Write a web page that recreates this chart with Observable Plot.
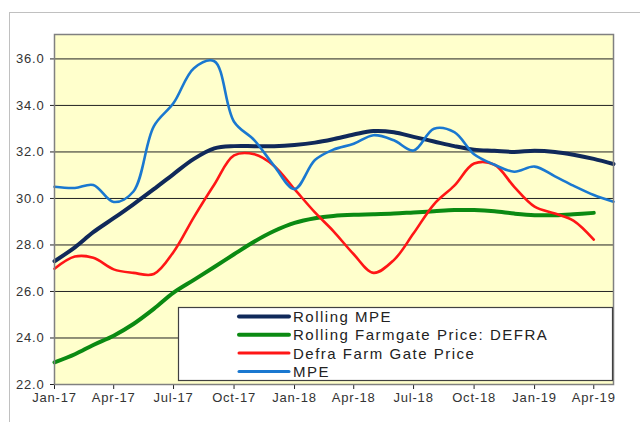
<!DOCTYPE html>
<html>
<head>
<meta charset="utf-8">
<script src="https://cdn.jsdelivr.net/npm/d3@7"></script>
<script src="https://cdn.jsdelivr.net/npm/@observablehq/plot@0.6"></script>
<style>
  html, body { margin: 0; padding: 0; background: #fff; }
  #wrap { position: relative; width: 640px; height: 422px; overflow: hidden; }
  #border { position: absolute; left: 9px; top: 12px; width: 700px; height: 500px;
            border-left: 1px solid #c0c0c0; border-top: 1px solid #c0c0c0; }
  #chart { position: absolute; left: 0; top: 0; }
</style>
</head>
<body>
<div id="wrap"><div id="border"></div><div id="chart"></div></div>
<script>
// ---- Data ----
const months = [
  "2017-01","2017-02","2017-03","2017-04","2017-05","2017-06","2017-07","2017-08","2017-09","2017-10","2017-11","2017-12",
  "2018-01","2018-02","2018-03","2018-04","2018-05","2018-06","2018-07","2018-08","2018-09","2018-10","2018-11","2018-12",
  "2019-01","2019-02","2019-03","2019-04","2019-05"
];
const rollingMPE = [27.3, 27.9, 28.55, 29.15, 29.75, 30.4, 31.05, 31.7, 32.15, 32.25, 32.25, 32.25, 32.3, 32.4, 32.55, 32.75, 32.9, 32.85, 32.65, 32.45, 32.25, 32.1, 32.05, 32.0, 32.05, 32.0, 31.88, 31.7, 31.48];
const rollingFarmgate = [22.95, 23.3, 23.7, 24.1, 24.6, 25.25, 25.95, 26.5, 27.05, 27.6, 28.15, 28.6, 28.95, 29.15, 29.25, 29.3, 29.32, 29.35, 29.4, 29.45, 29.5, 29.5, 29.45, 29.35, 29.28, 29.28, 29.32, 29.38];
const defraPrice = [26.98, 27.5, 27.45, 26.95, 26.8, 26.75, 27.7, 29.2, 30.6, 31.85, 31.9, 31.4, 30.4, 29.4, 28.6, 27.6, 26.8, 27.35, 28.5, 29.75, 30.55, 31.5, 31.45, 30.5, 29.65, 29.35, 29.05, 28.23];
const mpe = [30.5, 30.45, 30.58, 29.85, 30.3, 33.1, 34.1, 35.6, 35.9, 33.3, 32.5, 31.4, 30.4, 31.65, 32.1, 32.35, 32.72, 32.5, 32.06, 33.0, 32.85, 31.9, 31.45, 31.15, 31.37, 30.95, 30.55, 30.15, 29.86];
const seriesNames = ["Rolling MPE", "Rolling Farmgate Price: DEFRA", "Defra Farm Gate Price", "MPE"];
const tickMonths = ["2017-01","2017-04","2017-07","2017-10","2018-01","2018-04","2018-07","2018-10","2019-01","2019-04"];
const tickLabels = ["Jan-17","Apr-17","Jul-17","Oct-17","Jan-18","Apr-18","Jul-18","Oct-18","Jan-19","Apr-19"];
const yTicks = [22, 24, 26, 28, 30, 32, 34, 36];

// ---- Styles ----
const seriesValues = [rollingMPE, rollingFarmgate, defraPrice, mpe];
const colors = ["#10295a", "#0b8a12", "#ff1616", "#1a78d0"];
const widths = [4, 4, 2.6, 2.6];

const parse = d3.utcParse("%Y-%m");
const tickDates = tickMonths.map(parse);
const labelMap = new Map(tickDates.map((d, i) => [+d, tickLabels[i]]));

const lineMarks = seriesNames.map((name, k) => {
  const rows = seriesValues[k].map((v, i) => ({date: parse(months[i]), value: v, series: name}));
  return Plot.line(rows, {x: "date", y: "value", stroke: colors[k], strokeWidth: widths[k], curve: "catmull-rom"});
});

const plot = Plot.plot({
  width: 640,
  height: 422,
  marginLeft: 54,
  marginRight: 27,
  marginTop: 34,
  marginBottom: 38,
  style: {
    fontFamily: "'Liberation Sans', Arial, sans-serif",
    fontSize: "13px",
    color: "#333",
    background: "transparent",
    letterSpacing: "0.8px",
    overflow: "visible"
  },
  x: {type: "utc", domain: [parse(months[0]), parse(months[months.length - 1])]},
  y: {domain: [22, 37.05]},
  marks: [
    Plot.frame({fill: "#FFFFCC", stroke: null}),
    Plot.gridY(yTicks, {stroke: "#222", strokeOpacity: 1, strokeWidth: 1}),
    Plot.axisY(yTicks, {tickSize: 4, tickPadding: 6, tickFormat: d3.format(".1f"), label: null, stroke: "#222"}),
    Plot.axisX(tickDates, {tickSize: 5, tickPadding: 3, tickFormat: d => labelMap.get(+d), label: null, stroke: "#222"}),
    ...lineMarks,
    Plot.frame({stroke: "#808080", strokeWidth: 1.5})
  ]
});

// ---- Legend (inside plot area, bottom right) ----
const svg = d3.select(plot);
const lg = svg.append("g")
  .attr("font-family", "'Liberation Sans', Arial, sans-serif")
  .attr("font-size", 15)
  .attr("letter-spacing", "1.5px")
  .attr("text-anchor", "start")
  .attr("fill", "#222");
lg.append("rect")
  .attr("x", 178.5).attr("y", 307.5).attr("width", 434).attr("height", 73)
  .attr("fill", "#fff").attr("stroke", "#404040").attr("stroke-width", 1.2);
seriesNames.forEach((name, k) => {
  const cy = 316.5 + k * 18.3;
  lg.append("line")
    .attr("x1", 239).attr("x2", 289).attr("y1", cy).attr("y2", cy)
    .attr("stroke", colors[k]).attr("stroke-width", k < 2 ? 4 : 3).attr("stroke-linecap", "round");
  lg.append("text")
    .attr("x", 293).attr("y", cy).attr("dy", "0.36em")
    .attr("text-anchor", "start")
    .text(name);
});

document.getElementById("chart").appendChild(plot);
</script>
</body>
</html>
